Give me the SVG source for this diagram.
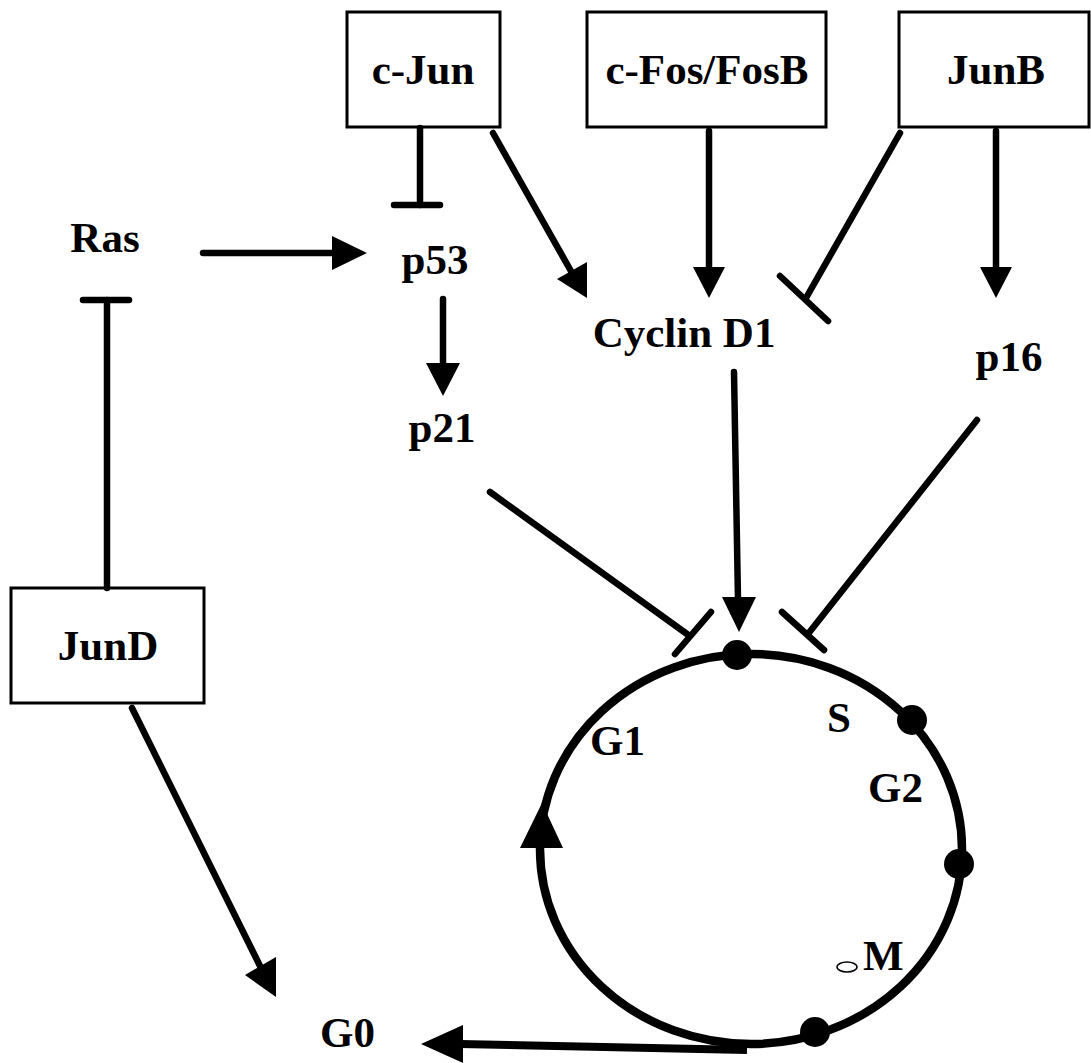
<svg xmlns="http://www.w3.org/2000/svg" width="1091" height="1063" viewBox="0 0 1091 1063">
<style>
.box{fill:#fff;stroke:#000;stroke-width:3}
.t{font-family:"Liberation Serif","Times New Roman",serif;font-weight:bold;font-size:43px;fill:#000}
.ln{stroke:#000;stroke-width:6.5;stroke-linecap:round;fill:none}
.ah{fill:#000;stroke:none}
.dot{fill:#000}
</style>
<rect x="0" y="0" width="1091" height="1063" fill="#fff"/>
<g id="node-cjun"><rect class="box" x="347" y="12" width="153" height="115"/><text class="t" x="423" y="84" text-anchor="middle">c-Jun</text></g>
<g id="node-cfos"><rect class="box" x="587" y="12" width="239" height="115"/><text class="t" x="707" y="84" text-anchor="middle">c-Fos/FosB</text></g>
<g id="node-junb"><rect class="box" x="899" y="12" width="190" height="115"/><text class="t" x="996" y="84" text-anchor="middle">JunB</text></g>
<g id="node-jund"><rect class="box" x="11" y="588" width="193" height="115"/><text class="t" x="108" y="660" text-anchor="middle">JunD</text></g>
<g id="node-ras"><text class="t" x="105" y="252" text-anchor="middle">Ras</text></g>
<g id="node-p53"><text class="t" x="435" y="274" text-anchor="middle">p53</text></g>
<g id="node-p21"><text class="t" x="442" y="442" text-anchor="middle">p21</text></g>
<g id="node-cyclind1"><text class="t" x="684" y="347" text-anchor="middle">Cyclin D1</text></g>
<g id="node-p16"><text class="t" x="1009" y="371" text-anchor="middle">p16</text></g>
<g id="node-g0"><text class="t" x="320" y="1047">G0</text></g>
<g id="node-cycle">
<ellipse cx="751" cy="849" rx="211" ry="195" fill="none" stroke="#000" stroke-width="8.5"/>
<polygon class="ah" points="542,803 520,848 563,848"/>
<circle class="dot" cx="737" cy="655" r="15"/>
<circle class="dot" cx="912" cy="720" r="15"/>
<circle class="dot" cx="959" cy="864" r="15"/>
<circle class="dot" cx="815" cy="1032" r="15"/>
<ellipse cx="847" cy="967" rx="10" ry="5" fill="none" stroke="#000" stroke-width="1.5"/>
<text class="t" x="590" y="755">G1</text>
<text class="t" x="827" y="732">S</text>
<text class="t" x="868" y="802">G2</text>
<text class="t" x="863" y="970">M</text>
</g>
<g id="connectors">
<line class="ln" x1="203" y1="253" x2="335" y2="253"/>
<polygon class="ah" points="367,253 332,236 332,270"/>
<line class="ln" x1="420" y1="128" x2="420" y2="205"/>
<line class="ln" x1="394" y1="205" x2="440" y2="205"/>
<line class="ln" x1="107" y1="588" x2="107" y2="300"/>
<line class="ln" x1="83" y1="300" x2="129" y2="300"/>
<line class="ln" x1="443" y1="299" x2="443" y2="366"/>
<polygon class="ah" points="443,396 426,363 460,363"/>
<line class="ln" x1="493" y1="133" x2="576" y2="280"/>
<polygon class="ah" points="557,279 587,262 587,298"/>
<line class="ln" x1="709" y1="131" x2="709" y2="270"/>
<polygon class="ah" points="709,298 693,267 725,267"/>
<line class="ln" x1="900" y1="133" x2="806" y2="298"/>
<line class="ln" x1="780" y1="276" x2="828" y2="321"/>
<line class="ln" x1="996" y1="131" x2="996" y2="270"/>
<polygon class="ah" points="996,298 980,267 1012,267"/>
<line class="ln" x1="734" y1="372" x2="738" y2="600"/>
<polygon class="ah" points="739,632 722,597 756,597"/>
<line class="ln" x1="977" y1="420" x2="808" y2="634"/>
<line class="ln" x1="782" y1="612" x2="824" y2="650"/>
<line class="ln" x1="490" y1="492" x2="687" y2="634"/>
<line class="ln" x1="711" y1="612" x2="675" y2="654"/>
<line class="ln" x1="132" y1="708" x2="262" y2="970"/>
<polygon class="ah" points="245,975 276,957 276,997"/>
<line x1="460" y1="1044" x2="747" y2="1050" stroke="#000" stroke-width="8"/>
<polygon class="ah" points="421,1044 463,1025 463,1063"/>
</g>
</svg>
